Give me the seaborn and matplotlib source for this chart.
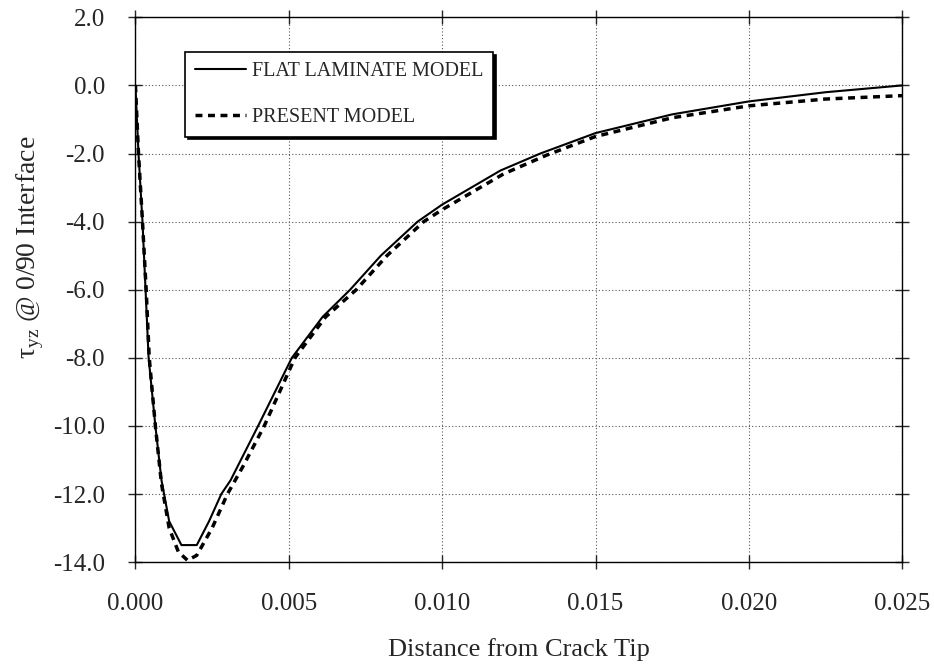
import numpy as np
import matplotlib.pyplot as plt
import seaborn as sns
from matplotlib.ticker import FormatStrFormatter, MultipleLocator

sns.set_style('white')
plt.rcParams['font.family'] = ['Liberation Serif', 'DejaVu Serif']
plt.rcParams['mathtext.fontset'] = 'custom'
plt.rcParams['mathtext.rm'] = 'Liberation Serif'

# flat laminate model (solid line)
x_flat = [0.0, 0.0001, 0.00023, 0.00033, 0.00043, 0.00065, 0.00085, 0.0011,
          0.0015, 0.0020, 0.0024, 0.0028, 0.0031, 0.0040, 0.0051, 0.0061,
          0.0070, 0.0080, 0.0092, 0.0100, 0.0119, 0.0132, 0.0150, 0.0175,
          0.0200, 0.0225, 0.0250]
y_flat = [0.0, -2.0, -4.0, -6.0, -8.0, -10.0, -11.6, -12.8,
          -13.5, -13.5, -12.8, -12.0, -11.6, -10.0, -8.0, -6.8,
          -6.0, -5.0, -4.0, -3.5, -2.5, -2.0, -1.4, -0.85,
          -0.47, -0.2, 0.0]

# present model (dashed line)
x_pres = [0.0, 0.0001, 0.00023, 0.00035, 0.00045, 0.00065, 0.00085, 0.0011,
          0.0014, 0.0017, 0.0020, 0.0025, 0.0030, 0.0035, 0.0042, 0.0052,
          0.0062, 0.0072, 0.0082, 0.0094, 0.0100, 0.0120, 0.0134, 0.0150,
          0.0175, 0.0200, 0.0225, 0.0250]
y_pres = [0.0, -2.0, -4.0, -6.0, -8.0, -10.0, -11.7, -13.0,
          -13.7, -13.95, -13.8, -13.0, -12.0, -11.2, -10.0, -8.0,
          -6.8, -6.0, -5.0, -4.0, -3.65, -2.6, -2.05, -1.5,
          -0.95, -0.6, -0.4, -0.3]

fig = plt.figure(figsize=(9.34, 6.66), dpi=100)
ax = fig.add_axes([0.145, 0.156, 0.821, 0.818])

sns.lineplot(x=x_flat, y=y_flat, ax=ax, color='black', lw=1.5,
             label='FLAT LAMINATE MODEL', sort=False)
sns.lineplot(x=x_pres, y=y_pres, ax=ax, color='black', lw=2.5,
             label='PRESENT MODEL', sort=False)
ax.lines[1].set_dashes([2, 1.6])

ax.set_xlim(0, 0.025)
ax.set_ylim(-14, 2)
ax.xaxis.set_major_locator(MultipleLocator(0.005))
ax.yaxis.set_major_locator(MultipleLocator(2))
ax.xaxis.set_major_formatter(FormatStrFormatter('%.3f'))
ax.yaxis.set_major_formatter(FormatStrFormatter('%.1f'))
ax.grid(True, color='#555555', ls=(0, (1, 2)), lw=0.8)
ax.tick_params(direction='inout', length=10, width=1, labelsize=18,
               top=True, right=True, bottom=True, left=True, pad=17)
for s in ax.spines.values():
    s.set_color('black')
    s.set_linewidth(1)

ax.set_xlabel('Distance from Crack Tip', fontsize=19)
ax.xaxis.set_label_coords(0.5, -0.14)
ax.set_ylabel('τ$_{\\rm yz}$ @ 0/90 Interface', fontsize=20)
ax.yaxis.set_label_coords(-0.117, 0.578)

leg = ax.legend(loc='upper left', bbox_to_anchor=(0.065, 0.936), fontsize=14.5,
                frameon=True, fancybox=False, shadow={'color': 'black', 'alpha': 1},
                edgecolor='black', handlelength=2.5, handletextpad=0.3,
                labelspacing=1.3, borderpad=0.5, borderaxespad=0)
leg.get_frame().set_linewidth(1.2)

fig.savefig('out.png', dpi=100)
